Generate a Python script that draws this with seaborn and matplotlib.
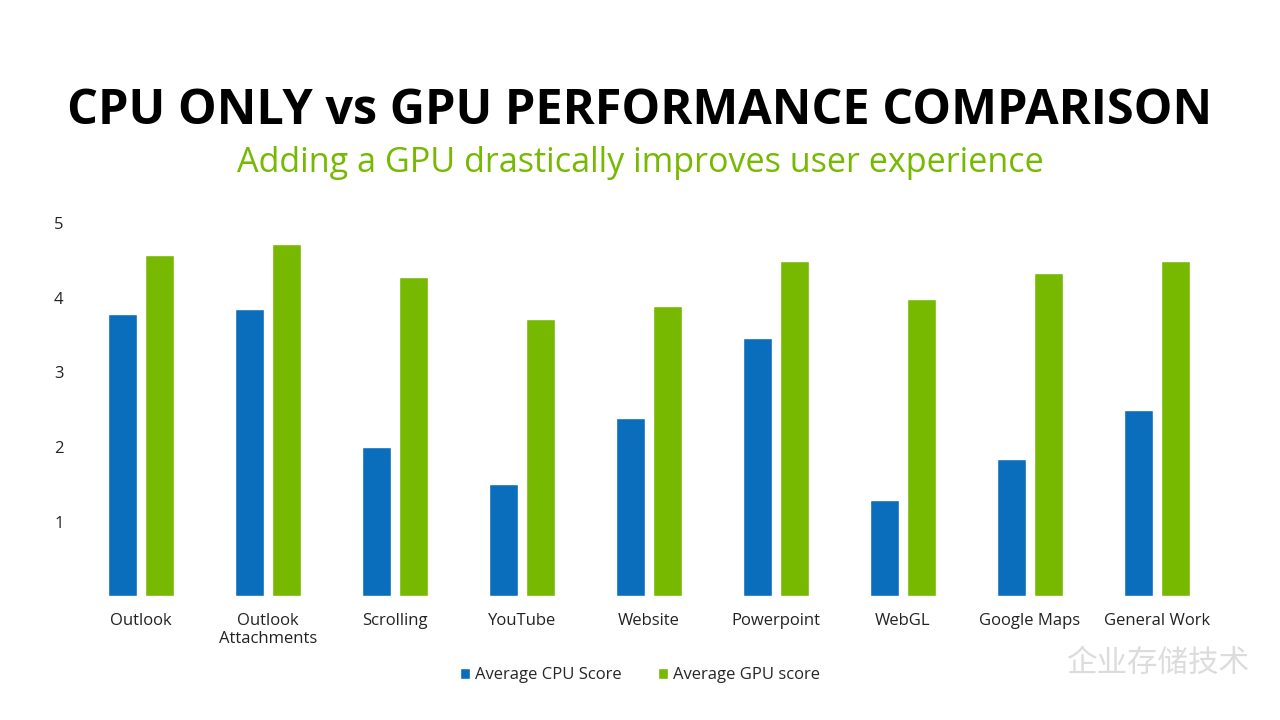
import pandas as pd
import matplotlib
matplotlib.use('Agg')
import matplotlib.pyplot as plt
import seaborn as sns

# du lieu doc tu hinh
categories = ["Outlook", "Outlook\nAttachments", "Scrolling", "YouTube", "Website",
              "Powerpoint", "WebGL", "Google Maps", "General Work"]
cpu_scores = [3.78, 3.85, 2.00, 1.50, 2.39, 3.46, 1.29, 1.84, 2.49]
gpu_scores = [4.57, 4.72, 4.28, 3.71, 3.89, 4.49, 3.99, 4.33, 4.49]
series_names = ["Average CPU Score", "Average GPU score"]
yticks = [1, 2, 3, 4, 5]

df = pd.DataFrame({
    "category": categories * 2,
    "score": cpu_scores + gpu_scores,
    "series": [series_names[0]] * len(categories) + [series_names[1]] * len(categories),
})

sns.set_style("white")
plt.rcParams['font.family'] = ['Open Sans', 'DejaVu Sans']

fig = plt.figure(figsize=(12.8, 7.2), dpi=100)
ax = fig.add_axes([0.0605, 0.172, 0.893, 0.518])

palette = {series_names[0]: "#0a6ebd", series_names[1]: "#76b900"}
sns.barplot(data=df, x="category", y="score", hue="series", palette=palette,
            width=0.575, gap=0.2, saturation=1, ax=ax)

ax.set_ylim(0, 5)
ax.set_xlim(-0.5, len(categories) - 0.5)
ax.set_yticks(yticks)
ax.set_xlabel("")
ax.set_ylabel("")
for s in ax.spines.values():
    s.set_visible(False)
ax.tick_params(axis='y', length=0, pad=10, labelsize=12, labelcolor="#222222")
ax.tick_params(axis='x', length=0, pad=12, labelsize=12, labelcolor="#222222")

ax.legend(loc='upper center', bbox_to_anchor=(0.492, -0.15), ncol=2, frameon=False,
          fontsize=12, handlelength=0.6, handleheight=0.6, handletextpad=0.3,
          columnspacing=2.2)

fig.text(0.5, 0.845, "CPU ONLY vs GPU PERFORMANCE COMPARISON", ha='center', va='center',
         fontsize=35, fontweight='bold', color='black')
fig.text(0.5, 0.773, "Adding a GPU drastically improves user experience", ha='center',
         va='center', fontsize=24.6, color='#76b900')

# watermark
fig.text(0.905, 0.078, "企业存储技术", ha='center', va='center', fontsize=22,
         color='#dcdcdc', family=['Noto Sans CJK SC', 'DejaVu Sans'])

fig.savefig("out.png", dpi=100)
